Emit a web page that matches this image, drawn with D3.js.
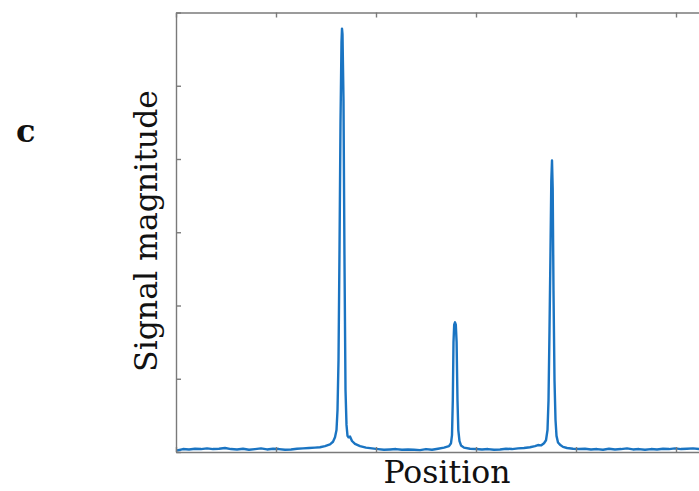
<!DOCTYPE html>
<html>
<head>
<meta charset="utf-8">
<script src="https://cdn.jsdelivr.net/npm/d3@7"></script>
<style>
  body { margin: 0; background: #fff; }
  svg { display: block; }
</style>
</head>
<body>
<script>
let w = 699;
let h = 491;

// position along the scan (arbitrary units) and the measured magnitude
let pos = [1, 7, 13, 19, 25, 31, 37, 43, 49, 55, 61, 67, 73, 79, 85, 91, 97, 103, 109, 115,
  121, 127, 133, 139, 144, 149, 154, 157, 159, 160.5, 161.5, 162.5, 163.5, 164.5, 165.5, 166,
  166.5, 167.5, 168.5, 169.5, 170.5, 171.5, 172.5, 174, 176, 179, 184, 190, 196, 202, 208, 214,
  220, 226, 232, 238, 244, 250, 256, 262, 268, 273, 275, 276, 276.8, 277.5, 278.2, 279, 279.8,
  280.6, 281.5, 282.3, 283.5, 285, 288, 294, 300, 306, 312, 318, 324, 330, 336, 342, 348, 354,
  359, 362, 365, 368, 370, 371.5, 372.5, 373.5, 374.5, 375.3, 376, 376.7, 377.5, 378.5, 379.5,
  380.5, 382, 384, 387, 391, 397, 403, 409, 415, 421, 427, 433, 439, 445, 451, 457, 463, 469,
  475, 481, 487, 493, 499, 505, 511, 517, 523, 529, 535, 541, 547, 553, 559, 565, 571, 577, 583,
  589, 595, 599];
let mag = [0.02, 0.04, 0.035, 0.045, 0.04, 0.05, 0.04, 0.045, 0.055, 0.04, 0.035, 0.045, 0.03,
  0.04, 0.05, 0.035, 0.045, 0.04, 0.03, 0.035, 0.045, 0.05, 0.055, 0.06, 0.065, 0.08, 0.105, 0.14,
  0.2, 0.3, 0.57, 1.25, 2.75, 4.5, 5.6, 5.78, 5.7, 4.8, 2.6, 0.85, 0.37, 0.22, 0.2, 0.21, 0.15,
  0.11, 0.08, 0.06, 0.05, 0.04, 0.03, 0.035, 0.04, 0.03, 0.035, 0.03, 0.025, 0.04, 0.03, 0.045,
  0.06, 0.08, 0.12, 0.23, 0.7, 1.5, 1.74, 1.77, 1.74, 1.5, 0.7, 0.3, 0.15, 0.09, 0.06, 0.045,
  0.04, 0.035, 0.04, 0.03, 0.035, 0.045, 0.04, 0.05, 0.055, 0.065, 0.08, 0.095, 0.09, 0.12, 0.16,
  0.3, 0.7, 1.66, 2.75, 3.7, 3.98, 3.6, 2.2, 0.98, 0.44, 0.22, 0.13, 0.1, 0.07, 0.055, 0.045,
  0.04, 0.045, 0.035, 0.04, 0.03, 0.045, 0.035, 0.04, 0.05, 0.035, 0.04, 0.03, 0.04, 0.035,
  0.045, 0.04, 0.05, 0.04, 0.045, 0.05, 0.04, 0.045, 0.035, 0.04, 0.05, 0.035, 0.04, 0.045,
  0.035, 0.04, 0.04];

let xTicks = [0, 100, 200, 300, 400, 500, 600];
let yTicks = [0, 1, 2, 3, 4, 5, 6];

let mLeft = 176, mRight = 776, mTop = 12.5, mBottom = 452;
let axisColor = "#7a7a7a";
let lineColor = "#1a74c2";
let font = "'DejaVu Serif', serif";

let x = d3.scaleLinear().domain([0, 600]).range([mLeft, mRight]);
let y = d3.scaleLinear().domain([0, 6]).range([mBottom, mTop]);

let svg = d3.select("body").append("svg").attr("width", w).attr("height", h);

// the trace
let line = d3.line()
  .x((d, i) => x(pos[i]))
  .y((d) => y(d));

svg.append("path")
  .datum(mag)
  .attr("d", line)
  .attr("fill", "none")
  .attr("stroke", lineColor)
  .attr("stroke-width", 2.4)
  .attr("stroke-linejoin", "round");

// box with inward ticks, no labels
function styleAxis(g) {
  g.select(".domain").attr("stroke", axisColor).attr("stroke-width", 1.4);
  g.selectAll(".tick line").attr("stroke", axisColor).attr("stroke-width", 1.4);
  g.selectAll(".tick text").remove();
}

svg.append("g")
  .attr("transform", `translate(0,${mBottom})`)
  .call(d3.axisTop(x).tickValues(xTicks).tickSize(5).tickSizeOuter(0))
  .call(styleAxis);
svg.append("g")
  .attr("transform", `translate(0,${mTop})`)
  .call(d3.axisBottom(x).tickValues(xTicks).tickSize(5).tickSizeOuter(0))
  .call(styleAxis);
svg.append("g")
  .attr("transform", `translate(${mLeft},0)`)
  .call(d3.axisRight(y).tickValues(yTicks).tickSize(5).tickSizeOuter(0))
  .call(styleAxis);

// labels
svg.append("text")
  .attr("x", 447)
  .attr("y", 483)
  .attr("text-anchor", "middle")
  .attr("font-family", font)
  .attr("font-size", 31.5)
  .attr("fill", "#111")
  .text("Position");

svg.append("text")
  .attr("transform", "translate(157,231) rotate(-90)")
  .attr("text-anchor", "middle")
  .attr("font-family", font)
  .attr("font-size", 31.5)
  .attr("fill", "#111")
  .text("Signal magnitude");

svg.append("text")
  .attr("x", 16)
  .attr("y", 142)
  .attr("font-family", font)
  .attr("font-size", 32)
  .attr("font-weight", "bold")
  .attr("fill", "#111")
  .text("c");
</script>
</body>
</html>
